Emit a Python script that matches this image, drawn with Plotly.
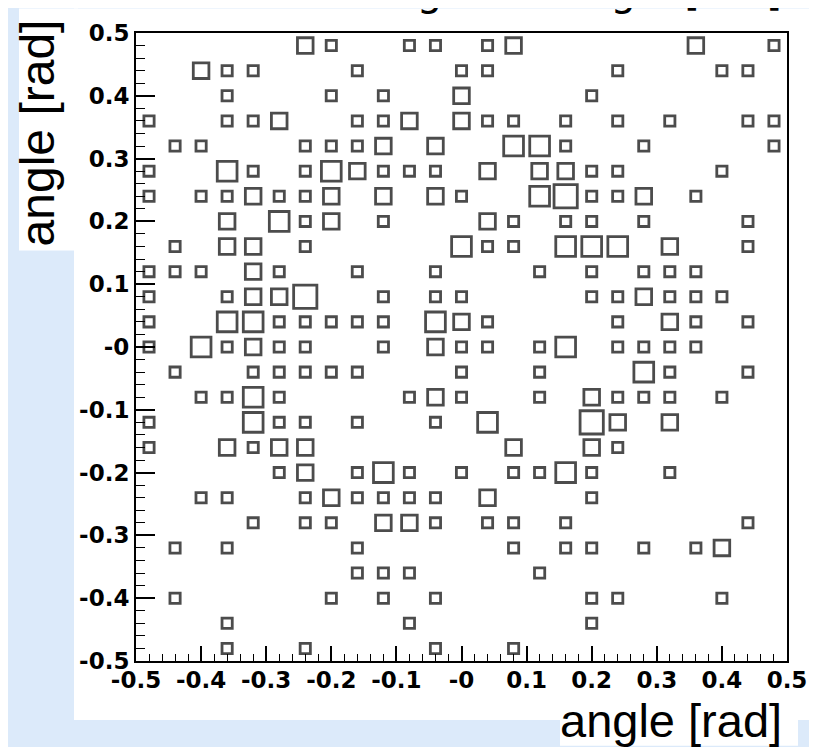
import numpy as np
import plotly.graph_objects as go

# ---- data (bin centres, counts) ----
x_centers = [-0.48, -0.44, -0.40, -0.36, -0.32, -0.28, -0.24, -0.20, -0.16, -0.12,
             -0.08, -0.04, 0.00, 0.04, 0.08, 0.12, 0.16, 0.20, 0.24, 0.28,
             0.32, 0.36, 0.40, 0.44, 0.48]
y_centers = [0.48, 0.44, 0.40, 0.36, 0.32, 0.28, 0.24, 0.20, 0.16, 0.12,
             0.08, 0.04, 0.00, -0.04, -0.08, -0.12, -0.16, -0.20, -0.24, -0.28,
             -0.32, -0.36, -0.40, -0.44, -0.48]
# rows from top (y=0.48) to bottom (y=-0.48), columns left to right
counts = [
    [0,0,0,0,0,0,2,1,0,0,1,1,0,1,2,0,0,0,0,0,0,2,0,0,1],
    [0,0,2,1,1,0,0,0,1,0,0,0,1,1,0,0,0,0,1,0,0,0,1,1,0],
    [0,0,0,1,0,0,0,1,0,1,0,0,2,0,0,0,0,1,0,0,0,0,0,0,0],
    [1,0,0,1,1,2,0,0,1,1,2,0,2,1,1,0,1,0,1,0,1,0,0,1,1],
    [0,1,1,0,0,0,1,1,1,2,0,2,0,0,3,3,1,0,0,1,0,0,0,0,1],
    [1,0,0,3,1,0,1,3,2,1,1,1,0,2,0,2,2,1,1,0,0,0,1,0,0],
    [1,0,1,1,2,1,1,2,0,2,0,2,1,0,0,3,4,1,1,2,0,1,0,0,0],
    [0,0,0,2,0,3,1,2,0,1,0,0,0,2,1,0,1,1,0,1,0,0,0,1,0],
    [0,1,0,2,2,0,1,0,0,0,0,0,3,1,1,0,3,3,3,0,2,0,0,1,0],
    [1,1,1,0,2,1,0,0,1,0,0,1,0,0,0,1,0,1,0,1,1,1,0,0,0],
    [1,0,0,1,2,2,4,0,0,1,0,1,1,0,0,0,0,1,1,2,1,1,1,0,0],
    [1,0,0,3,3,1,1,1,1,1,0,3,2,1,0,0,0,0,1,0,2,1,0,1,0],
    [1,0,3,1,2,1,1,0,0,1,0,2,1,1,0,1,3,0,1,1,1,1,0,0,0],
    [0,1,0,0,1,1,1,1,1,0,0,0,1,0,0,1,0,0,0,3,1,0,0,1,0],
    [0,0,1,1,3,1,0,0,0,0,1,2,1,0,0,1,0,2,1,1,1,0,1,0,0],
    [1,0,0,0,3,1,1,0,1,0,0,1,0,3,0,0,0,4,2,0,2,0,0,0,0],
    [1,0,0,2,1,2,2,0,0,0,0,0,0,0,2,0,0,2,1,0,0,0,0,0,0],
    [0,0,0,0,0,1,2,0,1,3,1,0,1,0,1,1,3,1,0,0,1,0,0,0,0],
    [0,0,1,1,0,0,1,2,1,1,1,1,0,2,0,0,0,1,0,0,0,0,0,0,0],
    [0,0,0,0,1,0,1,1,0,2,2,1,0,1,1,0,1,0,0,0,0,0,0,1,0],
    [0,1,0,1,0,0,0,0,1,0,0,0,0,0,1,0,1,1,0,1,0,1,2,0,0],
    [0,0,0,0,0,0,0,0,1,1,1,0,0,0,0,1,0,0,0,0,0,0,0,0,0],
    [0,1,0,0,0,0,0,1,0,1,0,1,0,0,0,0,0,1,1,0,0,0,1,0,0],
    [0,0,0,1,0,0,0,0,0,0,1,0,0,0,0,0,0,1,0,0,0,0,0,0,0],
    [0,0,0,1,0,0,1,0,0,0,0,1,0,0,1,0,0,0,0,0,0,0,0,0,0],
]
tick_vals = [-0.5, -0.4, -0.3, -0.2, -0.1, 0.0, 0.1, 0.2, 0.3, 0.4, 0.5]
tick_text = ["-0.5", "-0.4", "-0.3", "-0.2", "-0.1", "-0", "0.1", "0.2", "0.3", "0.4", "0.5"]
x_title = "angle [rad]"
y_title = "angle [rad]"
top_title = "angle vs. angle [rad]"

# ---- layout geometry ----
W, H = 817, 747
L, R, T, B = 128, 38, 15, 94
PW, PH = W - L - R, H - T - B
n_bins = len(x_centers)
bin_px = PW / n_bins


def px(xp):
    return (xp - L) / PW


def py(yp):
    return (H - B - yp) / PH


xs, ys, zs = [], [], []
for r, row in enumerate(counts):
    for k, z in enumerate(row):
        if z > 0:
            xs.append(x_centers[k])
            ys.append(y_centers[r])
            zs.append(z)
zmax = max(zs)
LW = 2.8
sizes = [bin_px * np.sqrt(z / zmax) - LW for z in zs]

fig = go.Figure()
fig.add_trace(go.Scatter(
    x=xs, y=ys, mode="markers",
    marker=dict(symbol="square-open", size=sizes, color="#000000",
                line=dict(width=LW, color="#000000")),
    hoverinfo="x+y+text", text=[str(z) for z in zs], showlegend=False,
))

font_ticks = dict(family="DejaVu Sans", size=23, color="black", weight="bold")
axis_common = dict(
    showgrid=False, zeroline=False, showline=True, linecolor="black", linewidth=2,
    mirror=True, ticks="inside", tickcolor="black", tickwidth=1.6,
    tickvals=tick_vals, ticktext=tick_text, tickfont=font_ticks,
    range=[-0.5, 0.5], fixedrange=True,
)
fig.update_xaxes(**axis_common, ticklen=15, ticklabelstandoff=-3,
                 minor=dict(ticks="inside", ticklen=7, dtick=0.02, tick0=0,
                            tickcolor="black", tickwidth=1.4, showgrid=False))
fig.update_yaxes(**axis_common, ticklen=19,
                 minor=dict(ticks="inside", ticklen=9, dtick=0.02, tick0=0,
                            tickcolor="black", tickwidth=1.4, showgrid=False))

shapes = [
    # white canvas
    dict(type="rect", xref="paper", yref="paper", x0=px(66), x1=px(830), y0=py(713), y1=py(-10),
         fillcolor="white", line=dict(width=0), layer="below"),
    # white box behind y title
    dict(type="rect", xref="paper", yref="paper", x0=px(11), x1=px(70), y0=py(236), y1=py(-10),
         fillcolor="white", line=dict(width=0), layer="below"),
    # white box behind x title
    dict(type="rect", xref="paper", yref="paper", x0=px(552), x1=px(790), y0=py(739), y1=py(700),
         fillcolor="white", line=dict(width=0), layer="below"),
]

annotations = [
    dict(text=x_title, xref="paper", yref="paper", x=px(776), y=py(713), xanchor="right",
         yanchor="middle", showarrow=False,
         font=dict(family="Liberation Sans", size=47, color="black")),
    dict(text=y_title, xref="paper", yref="paper", x=px(29), y=py(117), xanchor="center",
         yanchor="middle", textangle=-90, showarrow=False,
         font=dict(family="Liberation Sans", size=48, color="black")),
    dict(text=top_title, xref="paper", yref="paper", x=px(776), y=py(-2), xanchor="right",
         yanchor="bottom", showarrow=False, font=dict(family="DejaVu Sans", size=40, color="black")),
]

fig.update_layout(
    width=W, height=H, margin=dict(l=L, r=R, t=T, b=B, pad=0),
    paper_bgcolor="#dceafa", plot_bgcolor="white",
    shapes=shapes, annotations=annotations, showlegend=False,
)

fig.write_html("out.html")
